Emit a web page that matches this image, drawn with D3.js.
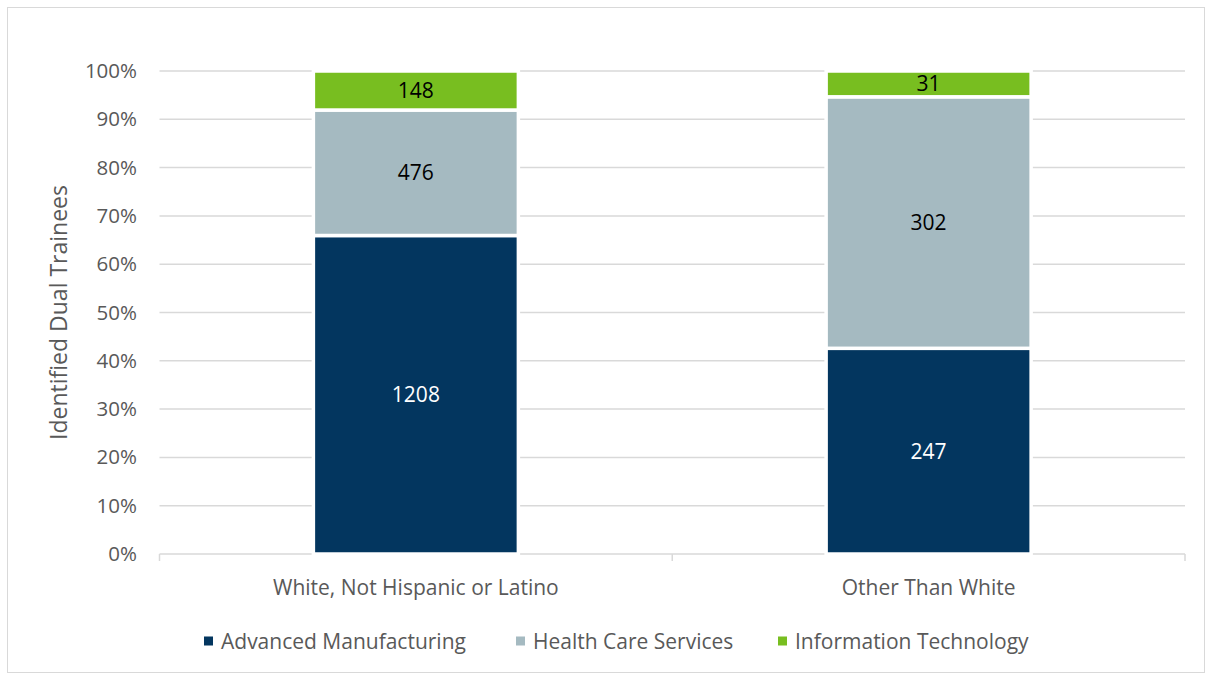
<!DOCTYPE html>
<html><head><meta charset="utf-8">
<script src="https://cdn.jsdelivr.net/npm/d3@7"></script>
<style>body{margin:0;background:#fff}svg{display:block}text{font-family:"Open Sans",sans-serif}</style>
</head><body><div id="chart"></div>
<script>
const categories = ["White, Not Hispanic or Latino", "Other Than White"];
const seriesNames = ["Advanced Manufacturing", "Health Care Services", "Information Technology"];
const advancedManufacturing = [1208, 247];
const healthCareServices = [476, 302];
const informationTechnology = [148, 31];
const yTicks = [0, 0.1, 0.2, 0.3, 0.4, 0.5, 0.6, 0.7, 0.8, 0.9, 1.0];
const colors = ["#03365F", "#A5BAC1", "#78BE20"];
const labelColors = ["#ffffff", "#000000", "#000000"];

(function () {
const W = 1206, H = 675;
const svg = d3.select("#chart").append("svg").attr("width", W).attr("height", H);
svg.append("rect").attr("x", 7.5).attr("y", 7.5).attr("width", W - 9).attr("height", H - 10)
  .attr("fill", "#fff").attr("stroke", "#d9d9d9").attr("stroke-width", 1);

const pL = 159.5, pR = 1185, pT = 71, pB = 554;
const rows = categories.map((c, i) => ({
  cat: c,
  "Advanced Manufacturing": advancedManufacturing[i],
  "Health Care Services": healthCareServices[i],
  "Information Technology": informationTechnology[i]
}));
const stacked = d3.stack().keys(seriesNames).offset(d3.stackOffsetExpand)(rows);

const x = d3.scaleBand().domain(categories).range([pL, pR]).paddingInner(0).paddingOuter(0);
const barW = 205;
const y = d3.scaleLinear().domain([0, 1]).range([pB, pT]);

svg.append("g").selectAll("line").data(yTicks.filter(d => d > 0)).join("line")
  .attr("x1", pL).attr("x2", pR)
  .attr("y1", d => y(d)).attr("y2", d => y(d))
  .attr("stroke", "#d9d9d9").attr("stroke-width", 1.5);

const yAxis = d3.axisLeft(y).tickValues(yTicks).tickFormat(d3.format(".0%")).tickSize(0).tickPadding(0);
const gy = svg.append("g").attr("transform", `translate(${137},0)`).call(yAxis);
gy.select(".domain").remove();
gy.selectAll("text").attr("fill", "#595959").style("font-size", "20.5px").style("font-family", "'Open Sans', sans-serif");

const gx = svg.append("g").attr("transform", `translate(0,${pB})`);
gx.append("line").attr("x1", pL).attr("x2", pR).attr("stroke", "#d9d9d9").attr("stroke-width", 1.5);
const tickXs = [pL, ...categories.map(c => x(c) + x.bandwidth())];
gx.selectAll(".tk").data(tickXs).join("line").attr("class", "tk")
  .attr("x1", d => d).attr("x2", d => d).attr("y1", 0).attr("y2", 7)
  .attr("stroke", "#d9d9d9").attr("stroke-width", 1.5);
gx.selectAll(".cl").data(categories).join("text").attr("class", "cl")
  .attr("x", d => x(d) + x.bandwidth() / 2).attr("y", 33).attr("dy", "0.36em")
  .attr("text-anchor", "middle").attr("fill", "#595959").style("font-size", "21px").text(d => d);

const gBars = svg.append("g");
stacked.forEach((s, si) => {
  const g = gBars.append("g");
  g.selectAll("rect").data(s).join("rect")
    .attr("x", d => x(d.data.cat) + x.bandwidth() / 2 - barW / 2)
    .attr("width", barW)
    .attr("y", d => y(d[1]))
    .attr("height", d => y(d[0]) - y(d[1]))
    .attr("fill", colors[si])
    .attr("stroke", "#fff").attr("stroke-width", 3.5);
  g.selectAll("text").data(s).join("text")
    .attr("x", d => x(d.data.cat) + x.bandwidth() / 2)
    .attr("y", d => (y(d[0]) + y(d[1])) / 2)
    .attr("dy", "0.36em").attr("text-anchor", "middle")
    .attr("fill", labelColors[si]).style("font-size", "21px")
    .text(d => d.data[s.key]);
});

svg.append("text").attr("transform", `translate(59,${(pT + pB) / 2}) rotate(-90)`)
  .attr("dy", "0.36em")
  .attr("text-anchor", "middle").attr("fill", "#595959").style("font-size", "23px")
  .text("Identified Dual Trainees");

const legendX = [204, 516, 778];
const lg = svg.append("g").attr("transform", `translate(0,641)`);
seriesNames.forEach((n, i) => {
  lg.append("rect").attr("x", legendX[i]).attr("y", -4.5).attr("width", 9).attr("height", 9).attr("fill", colors[i]);
  lg.append("text").attr("x", legendX[i] + 17).attr("y", 0).attr("dy", "0.36em")
    .attr("fill", "#595959").style("font-size", "21px").text(n);
});
})();
</script></body></html>
